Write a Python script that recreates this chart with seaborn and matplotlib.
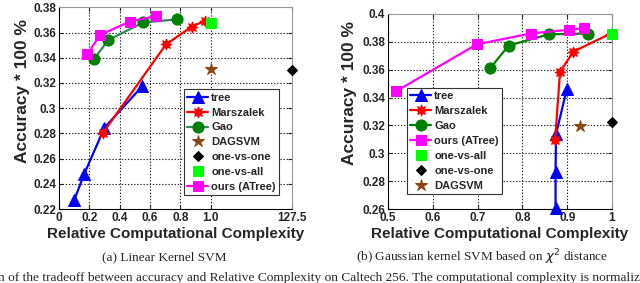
import numpy as np
import matplotlib
matplotlib.use('Agg')
import matplotlib.pyplot as plt
import seaborn as sns
from matplotlib.ticker import FormatStrFormatter

# ---- (a) Linear kernel SVM ----
a_tree_x = [0.10, 0.167, 0.30, 0.55]
a_tree_y = [0.227, 0.248, 0.2845, 0.3175]
a_mars_x = [0.288, 0.706, 0.875, 0.963]
a_mars_y = [0.280, 0.3506, 0.3646, 0.3693]
a_gao_x = [0.231, 0.325, 0.556, 0.776]
a_gao_y = [0.339, 0.354, 0.368, 0.3704]
a_ours_x = [0.187, 0.27, 0.468, 0.638]
a_ours_y = [0.3427, 0.358, 0.3687, 0.373]
a_dag = (1.0, 0.331)
a_ovo = (127.5, 0.3302)
a_ova = (1.0, 0.3673)
a_xticks = [0, 0.2, 0.4, 0.6, 0.8, 1.0, 127.5]
a_xticklabels = ['0', '0.2', '0.4', '0.6', '0.8', '1.0', '127.5']
a_yticks = [0.22, 0.24, 0.26, 0.28, 0.30, 0.32, 0.34, 0.36, 0.38]

# ---- (b) Gaussian chi2 kernel SVM ----
b_tree_x = [0.874, 0.874, 0.875, 0.899]
b_tree_y = [0.2605, 0.2868, 0.3136, 0.346]
b_mars_x = [0.873, 0.884, 0.914, 0.997]
b_mars_y = [0.3095, 0.3586, 0.373, 0.386]
b_gao_x = [0.728, 0.769, 0.859, 0.947]
b_gao_y = [0.361, 0.3773, 0.3854, 0.386]
b_ours_x = [0.518, 0.698, 0.8185, 0.904, 0.9375]
b_ours_y = [0.3445, 0.3782, 0.386, 0.3887, 0.3898]
b_dag = (0.9286, 0.3198)
b_ovo = (1.0, 0.3227)
b_ova = (1.0, 0.3854)
b_xticks = [0.5, 0.6, 0.7, 0.8, 0.9, 1.0]
b_yticks = [0.26, 0.28, 0.30, 0.32, 0.34, 0.36, 0.38, 0.40]

sns.set_style('ticks')
plt.rcParams['font.family'] = ['Liberation Sans', 'DejaVu Sans']

C_TREE = '#0000ff'
C_MARS = '#ff0000'
C_GAO = '#008000'
C_OURS = '#ff00ff'
C_OVA = '#00ff00'
C_OVO = '#000000'
C_DAG = '#8b4513'
STAR8 = (8, 1, 0)
GRID_KW = dict(linestyle=(0, (1.2, 1.6)), color='#222222', linewidth=0.8, zorder=2.5)

fig = plt.figure(figsize=(6.4, 2.83), dpi=100)
ax1 = fig.add_axes([59 / 640, 1 - 209 / 283, 233 / 640, 201.7 / 283])
ax2 = fig.add_axes([388 / 640, 1 - 209 / 283, 224 / 640, 195 / 283])

k = 0.537 / 126.5


def fwd(x):
    x = np.asarray(x, dtype=float)
    return np.where(x <= 1, x, 1 + (x - 1) * k)


def inv(y):
    y = np.asarray(y, dtype=float)
    return np.where(y <= 1, y, 1 + (y - 1) / k)


def series(ax, x, y, color, marker, ms, label, line_color=None, lw=1.6):
    sns.lineplot(x=x, y=y, ax=ax, sort=False, estimator=None,
                 color=line_color or color, marker=marker, markersize=ms,
                 markerfacecolor=color, markeredgecolor=color,
                 linewidth=lw, label=label, legend=False, clip_on=False, zorder=3)


def single(ax, pt, color, marker, ms, label):
    sns.lineplot(x=[pt[0]], y=[pt[1]], ax=ax, estimator=None, color=color,
                 marker=marker, markersize=ms, markeredgecolor=color,
                 linestyle='none', label=label, legend=False, clip_on=False, zorder=3)


def grid(ax, xs, ys):
    # dotted matlab-style grid on the inner ticks
    ax.grid(False)
    for x in xs:
        ax.axvline(x, **GRID_KW)
    for y in ys:
        ax.axhline(y, **GRID_KW)


def style(ax, ylab_pos):
    ax.tick_params(direction='in', length=3, top=True, right=True, labelsize=8.5,
                   pad=2)
    for lab in ax.get_xticklabels() + ax.get_yticklabels():
        lab.set_fontweight('bold')
    for s in ['top', 'right']:
        ax.spines[s].set_color('#999999')
    for s in ['left', 'bottom']:
        ax.spines[s].set_color('#000000')
    for s in ax.spines.values():
        s.set_linewidth(0.8)
    ax.set_xlabel('Relative Computational Complexity', fontsize=11,
                  fontweight='bold', labelpad=2)
    ax.set_ylabel('Accuracy * 100 %', fontsize=12.5, fontweight='bold')
    ax.yaxis.set_label_coords(*ylab_pos)


def make_legend(ax, order, loc):
    h, l = ax.get_legend_handles_labels()
    d = dict(zip(l, h))
    leg = ax.legend([d[o] for o in order], order, loc='upper left',
                    bbox_to_anchor=loc, fontsize=8, frameon=True, fancybox=False,
                    framealpha=1, edgecolor='#333333', handlelength=1.9,
                    handletextpad=0.25, labelspacing=0.44, borderpad=0.3,
                    borderaxespad=0)
    for t in leg.get_texts():
        t.set_fontweight('bold')
    leg.get_frame().set_linewidth(0.8)
    leg.set_zorder(5)


# panel (a)
ax1.set_xscale('function', functions=(fwd, inv))
series(ax1, a_tree_x, a_tree_y, C_TREE, '^', 9, 'tree')
series(ax1, a_mars_x, a_mars_y, C_MARS, STAR8, 8, 'Marszalek')
series(ax1, a_gao_x, a_gao_y, C_GAO, 'o', 8, 'Gao', line_color='#2e8b57')
series(ax1, a_ours_x, a_ours_y, C_OURS, 's', 7, 'ours (ATree)')
single(ax1, a_dag, C_DAG, '*', 9, 'DAGSVM')
single(ax1, a_ovo, C_OVO, 'D', 5, 'one-vs-one')
single(ax1, a_ova, C_OVA, 's', 7, 'one-vs-all')
ax1.set_xlim(0, 127.5)
ax1.set_ylim(0.22, 0.38)
ax1.set_xticks(a_xticks)
ax1.set_xticklabels(a_xticklabels)
ax1.set_yticks(a_yticks)
ax1.yaxis.set_major_formatter(FormatStrFormatter('%g'))
grid(ax1, a_xticks[1:-1], a_yticks[1:-1])
style(ax1, (-0.124, 0.583))
make_legend(ax1, ['tree', 'Marszalek', 'Gao', 'DAGSVM', 'one-vs-one',
                  'one-vs-all', 'ours (ATree)'], (125 / 233, 1 - 82 / 201.7))

# panel (b)
series(ax2, b_tree_x, b_tree_y, C_TREE, '^', 9, 'tree')
series(ax2, b_mars_x, b_mars_y, C_MARS, STAR8, 8, 'Marszalek')
series(ax2, b_gao_x, b_gao_y, C_GAO, 'o', 8, 'Gao')
series(ax2, b_ours_x, b_ours_y, C_OURS, 's', 7, 'ours (ATree)')
single(ax2, b_ova, C_OVA, 's', 7, 'one-vs-all')
single(ax2, b_ovo, C_OVO, 'D', 5, 'one-vs-one')
single(ax2, b_dag, C_DAG, '*', 9, 'DAGSVM')
ax2.set_xlim(0.5, 1.0)
ax2.set_ylim(0.26, 0.40)
ax2.set_xticks(b_xticks)
ax2.set_yticks(b_yticks)
ax2.xaxis.set_major_formatter(FormatStrFormatter('%g'))
ax2.yaxis.set_major_formatter(FormatStrFormatter('%g'))
grid(ax2, b_xticks[1:-1], b_yticks[1:-1])
style(ax2, (-0.138, 0.595))
make_legend(ax2, ['tree', 'Marszalek', 'Gao', 'ours (ATree)', 'one-vs-all',
                  'one-vs-one', 'DAGSVM'], (19 / 224, 1 - 74 / 195))

# captions
serif = ['Liberation Serif', 'DejaVu Serif']
fig.text(164 / 640, 1 - 257 / 283, '(a) Linear Kernel SVM', ha='center',
         va='center', fontsize=9.5, family=serif)
fig.text(482 / 640, 1 - 257 / 283, r'(b) Gaussian kernel SVM based on $\chi^2$ distance',
         ha='center', va='center', fontsize=9.5, family=serif)
fig.text(-2 / 640, 1 - 281 / 283,
         'n of the tradeoff between accuracy and Relative Complexity on Caltech 256. '
         'The computational complexity is normaliz',
         ha='left', va='baseline', fontsize=9.6, family=serif)

fig.savefig('out.png', dpi=100)
